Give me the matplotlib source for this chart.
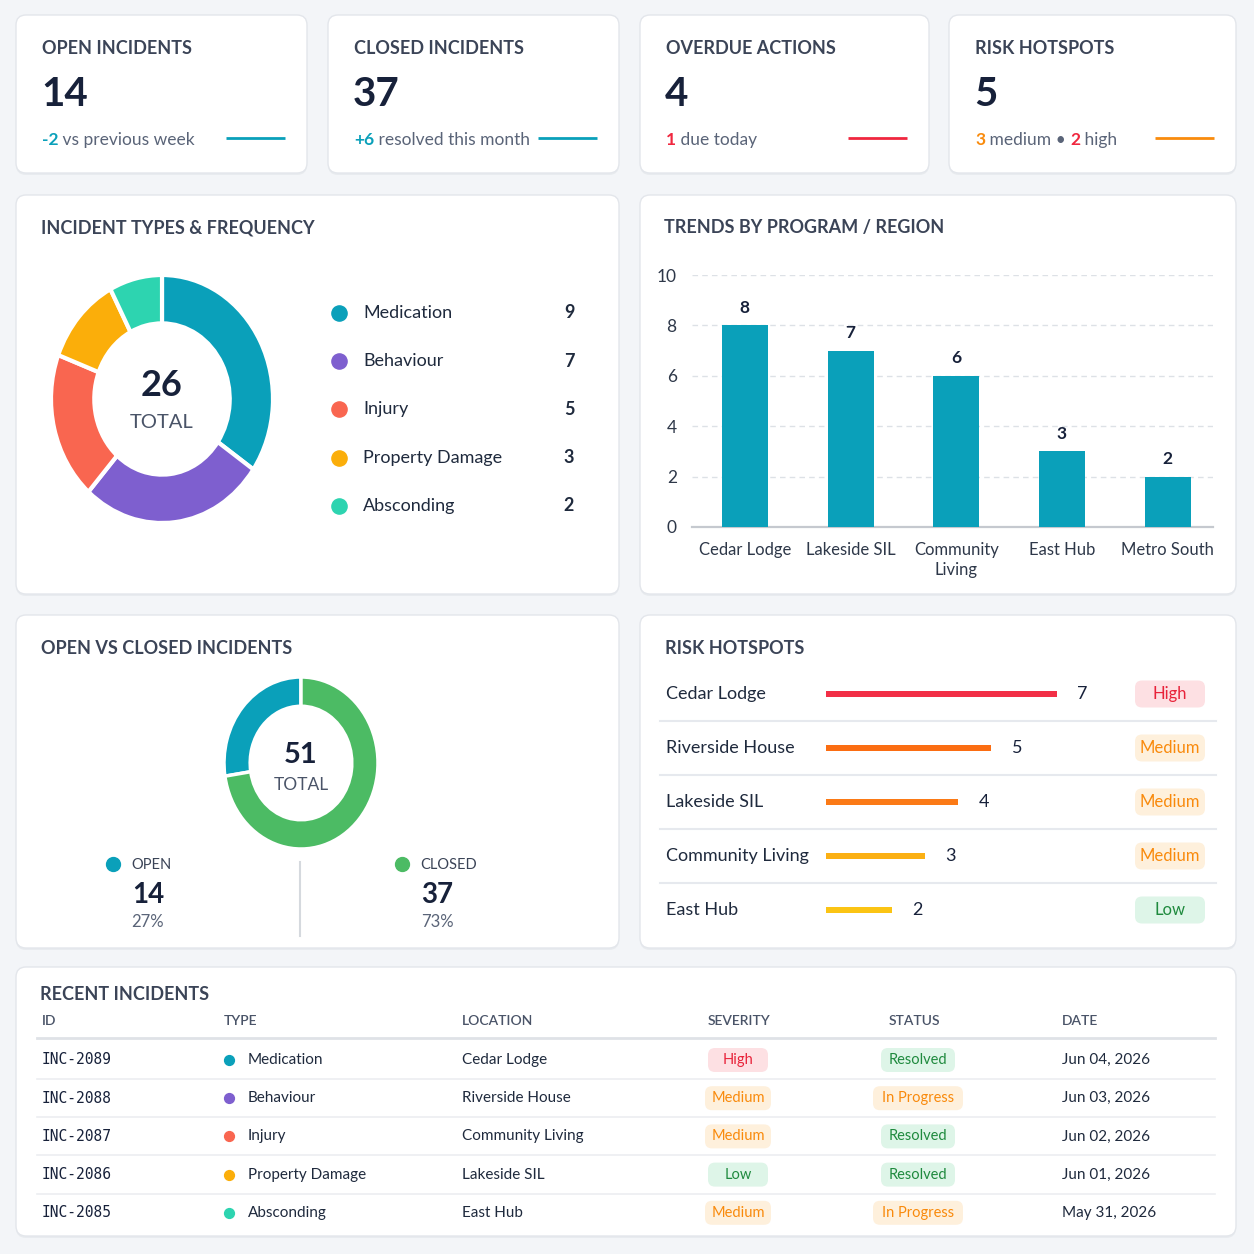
import matplotlib.pyplot as plt
from matplotlib.patches import FancyBboxPatch

plt.rcParams['font.family'] = ['Lato', 'DejaVu Sans']

# colours
BG = '#f3f5f8'
EDGE = '#e3e6eb'
TITLE = '#3b4457'
DARK = '#17213a'
TXT = '#1f2a3d'
GRAY = '#5a6478'
TEAL = '#0aa0ba'
RED = '#f0273f'
ORANGE = '#f98b0d'
GREEN = '#4cbb64'

# ---- data ----
kpi_titles = ['OPEN INCIDENTS', 'CLOSED INCIDENTS', 'OVERDUE ACTIONS', 'RISK HOTSPOTS']
kpi_values = [14, 37, 4, 5]
kpi_notes = [
    [('-2', TEAL, 'bold'), (' vs previous week', GRAY, 'normal')],
    [('+6', TEAL, 'bold'), (' resolved this month', GRAY, 'normal')],
    [('1', RED, 'bold'), (' due today', GRAY, 'normal')],
    [('3', ORANGE, 'bold'), (' medium \u2022 ', GRAY, 'normal'), ('2', RED, 'bold'), (' high', GRAY, 'normal')],
]
kpi_accents = [TEAL, TEAL, RED, ORANGE]

type_names = ['Medication', 'Behaviour', 'Injury', 'Property Damage', 'Absconding']
type_counts = [9, 7, 5, 3, 2]
type_colors = ['#0aa0ba', '#7e5fcf', '#f96650', '#fbae0a', '#2dd4b0']

programs = ['Cedar Lodge', 'Lakeside SIL', 'Community\nLiving', 'East Hub', 'Metro South']
program_counts = [8, 7, 6, 3, 2]

status_names = ['OPEN', 'CLOSED']
status_counts = [14, 37]
status_colors = [TEAL, GREEN]

hotspot_sites = ['Cedar Lodge', 'Riverside House', 'Lakeside SIL', 'Community Living', 'East Hub']
hotspot_counts = [7, 5, 4, 3, 2]
hotspot_levels = ['High', 'Medium', 'Medium', 'Medium', 'Low']
hotspot_colors = ['#f22f46', '#fb6d12', '#fb7a16', '#fbb014', '#fbc414']

inc_ids = ['INC-2089', 'INC-2088', 'INC-2087', 'INC-2086', 'INC-2085']
inc_types = ['Medication', 'Behaviour', 'Injury', 'Property Damage', 'Absconding']
inc_locations = ['Cedar Lodge', 'Riverside House', 'Community Living', 'Lakeside SIL', 'East Hub']
inc_severity = ['High', 'Medium', 'Medium', 'Low', 'Medium']
inc_status = ['Resolved', 'In Progress', 'Resolved', 'Resolved', 'In Progress']
inc_dates = ['Jun 04, 2026', 'Jun 03, 2026', 'Jun 02, 2026', 'Jun 01, 2026', 'May 31, 2026']
table_cols = ['ID', 'TYPE', 'LOCATION', 'SEVERITY', 'STATUS', 'DATE']

badge_style = {
    'High': ('#fde0e3', '#e8233a'),
    'Medium': ('#fef0dc', '#f98a0c'),
    'Low': ('#def5e8', '#1f8a3e'),
    'Resolved': ('#def5e8', '#1f8a3e'),
    'In Progress': ('#fef0dc', '#f98a0c'),
}

W = H = 1254
fig = plt.figure(figsize=(W / 100, H / 100), dpi=100, facecolor=BG)
ax = fig.add_axes([0, 0, 1, 1])
ax.set_xlim(0, W)
ax.set_ylim(H, 0)
ax.axis('off')


def px_axes(x0, y0, x1, y1):
    a = fig.add_axes([x0 / W, 1 - y1 / H, (x1 - x0) / W, (y1 - y0) / H])
    a.patch.set_alpha(0)
    return a


def card(x0, y0, x1, y1):
    ax.add_patch(FancyBboxPatch((x0, y0 + 2), x1 - x0, y1 - y0, boxstyle='round,pad=0,rounding_size=10',
                                fc='#e8ebef', ec='none', zorder=1))
    ax.add_patch(FancyBboxPatch((x0, y0), x1 - x0, y1 - y0, boxstyle='round,pad=0,rounding_size=10',
                                fc='white', ec=EDGE, lw=1, zorder=2))


def badge(cx, cy, label, w, h, size):
    fc, tc = badge_style[label]
    ax.add_patch(FancyBboxPatch((cx - w / 2, cy - h / 2), w, h, boxstyle='round,pad=0,rounding_size=7',
                                fc=fc, ec='none', zorder=3))
    ax.text(cx, cy, label, ha='center', va='center', fontsize=size, color=tc, zorder=4)


def card_title(x, y, s, size=13):
    ax.text(x, y, s, ha='left', va='center', fontsize=size, fontweight='bold', color=TITLE, zorder=4)


# ---- KPI cards ----
kpi_x = [(16, 307), (328, 619), (640, 929), (949, 1236)]
for (x0, x1), title, val, note, acc in zip(kpi_x, kpi_titles, kpi_values, kpi_notes, kpi_accents):
    card(x0, 15, x1, 173)
    card_title(x0 + 26, 49, title, 13)
    ax.text(x0 + 25, 94, str(val), ha='left', va='center', fontsize=29, fontweight='bold', color=DARK, zorder=4)
    prev = None
    for s, c, wgt in note:
        if prev is None:
            prev = ax.text(x0 + 26, 148, s, ha='left', va='bottom', fontsize=12.5, color=c,
                           fontweight=wgt, zorder=4)
        else:
            prev = ax.annotate(s, xy=(1, 0), xycoords=prev, ha='left', va='bottom', fontsize=12.5,
                               color=c, fontweight=wgt, zorder=4)
    ax.plot([x1 - 81, x1 - 22], [138, 138], color=acc, lw=2, solid_capstyle='butt', zorder=4)

# ---- incident types donut ----
card(16, 195, 619, 594)
card_title(41, 228, 'INCIDENT TYPES & FREQUENCY')
r = 1.08
dax = px_axes(162 - 111 * r, 399 - 124 * r, 162 + 111 * r, 399 + 124 * r)
dax.pie(type_counts, colors=type_colors, startangle=90, counterclock=False,
        wedgeprops=dict(width=0.39, edgecolor='white', linewidth=3))
dax.set_xlim(-r, r)
dax.set_ylim(-r, r)
dax.set_aspect('auto')
ax.text(162, 386, str(sum(type_counts)), ha='center', va='center', fontsize=26, fontweight='bold',
        color=DARK, zorder=4)
ax.text(162, 422, 'TOTAL', ha='center', va='center', fontsize=14.5, color='#4a5468', zorder=4)

for i, (name, cnt, col) in enumerate(zip(type_names, type_counts, type_colors)):
    y = 313 + i * 48.2
    ax.scatter(339, y, s=120, color=col, zorder=4)
    ax.text(363, y, name, ha='left', va='center', fontsize=13, color=TXT, zorder=4)
    ax.text(569, y, str(cnt), ha='center', va='center', fontsize=13, fontweight='bold', color=TXT, zorder=4)

# ---- trends bar chart ----
card(640, 195, 1236, 594)
card_title(664, 228, 'TRENDS BY PROGRAM / REGION')
bax = px_axes(692, 275, 1213, 527)
bars = bax.bar(range(len(programs)), program_counts, width=0.435, color=TEAL, zorder=3)
bax.bar_label(bars, padding=7, fontsize=12.5, fontweight='bold', color=DARK)
bax.set_xlim(-0.5, 4.43)
bax.set_ylim(0, 10)
bax.set_yticks(range(0, 11, 2))
bax.set_xticks(range(len(programs)))
bax.set_xticklabels(programs, fontsize=12, color='#2e3849', linespacing=1.3, va='top')
bax.tick_params(axis='y', length=0, pad=11, labelsize=12.5, labelcolor='#2e3849')
bax.tick_params(axis='x', length=0, pad=11)
bax.grid(axis='y', color='#dde1e6', ls=(0, (4, 3)), lw=1, zorder=0)
for side in ['top', 'right', 'left']:
    bax.spines[side].set_visible(False)
bax.spines['bottom'].set_color('#c5c9cf')
bax.spines['bottom'].set_linewidth(1.6)

# ---- open vs closed donut ----
card(16, 615, 619, 948)
card_title(41, 648, 'OPEN VS CLOSED INCIDENTS')
r2 = 1.08
oax = px_axes(301 - 77 * r2, 763 - 86 * r2, 301 + 77 * r2, 763 + 86 * r2)
oax.pie(status_counts, colors=status_colors, startangle=90, counterclock=True,
        wedgeprops=dict(width=0.34, edgecolor='white', linewidth=2.5))
oax.set_xlim(-r2, r2)
oax.set_ylim(-r2, r2)
oax.set_aspect('auto')
ax.text(301, 755, str(sum(status_counts)), ha='center', va='center', fontsize=21, fontweight='bold',
        color=DARK, zorder=4)
ax.text(301, 785, 'TOTAL', ha='center', va='center', fontsize=12.5, color='#4a5468', zorder=4)

total = sum(status_counts)
for cx, name, cnt, col in zip([148, 437], status_names, status_counts, status_colors):
    ax.scatter(cx - 35, 864, s=100, color=col, zorder=4)
    ax.text(cx - 17, 865, name, ha='left', va='center', fontsize=10.5, color=TITLE, zorder=4)
    ax.text(cx, 895, str(cnt), ha='center', va='center', fontsize=20, fontweight='bold', color=DARK, zorder=4)
    ax.text(cx, 922, f'{round(cnt / total * 100)}%', ha='center', va='center', fontsize=12, color=GRAY,
            zorder=4)
ax.plot([300, 300], [862, 936], color='#d5d9de', lw=1.5, zorder=4)

# ---- risk hotspots ----
card(640, 615, 1236, 948)
card_title(665, 648, 'RISK HOTSPOTS')
rax = px_axes(826, 667, 1130, 937)
rax.barh(range(len(hotspot_sites)), hotspot_counts, height=0.11, color=hotspot_colors)
for i, v in enumerate(hotspot_counts):
    rax.text(v + 0.78, i, str(v), ha='center', va='center', fontsize=13, color=DARK)
rax.set_xlim(0, 304 / 33)
rax.set_ylim(4.5, -0.5)
rax.axis('off')
for i, (site, lvl) in enumerate(zip(hotspot_sites, hotspot_levels)):
    y = 694 + i * 54
    ax.text(666, y, site, ha='left', va='center', fontsize=13, color=TXT, zorder=4)
    badge(1170, y, lvl, 70, 27, 12)
    if i < len(hotspot_sites) - 1:
        ax.plot([660, 1216], [y + 27, y + 27], color='#e6e9ee', lw=1.5, zorder=4)

# ---- recent incidents table ----
card(16, 967, 1236, 1236)
card_title(40, 994, 'RECENT INCIDENTS')
col_x = [42, 224, 462, 708, 889, 1062]
for x, c in zip(col_x, table_cols):
    ax.text(x, 1021, c, ha='left', va='center', fontsize=10, fontweight='semibold', color='#4a5468', zorder=4)
ax.plot([37, 1215], [1038, 1038], color='#dfe2e7', lw=2, zorder=4)
sev_w = {'High': 60, 'Medium': 66, 'Low': 60}
stat_w = {'Resolved': 74, 'In Progress': 90}
for i in range(len(inc_ids)):
    y = 1060 + i * 38.2
    ax.text(42, y, inc_ids[i], ha='left', va='center', fontsize=10.5, family='DejaVu Sans Mono',
            color=DARK, zorder=4)
    ax.scatter(229, y, s=50, color=type_colors[type_names.index(inc_types[i])], zorder=4)
    ax.text(248, y, inc_types[i], ha='left', va='center', fontsize=11, color=TXT, zorder=4)
    ax.text(462, y, inc_locations[i], ha='left', va='center', fontsize=11, color=TXT, zorder=4)
    badge(738, y, inc_severity[i], sev_w[inc_severity[i]], 24, 10.5)
    badge(918, y, inc_status[i], stat_w[inc_status[i]], 24, 10.5)
    ax.text(1062, y, inc_dates[i], ha='left', va='center', fontsize=11, color=TXT, zorder=4)
    if i < len(inc_ids) - 1:
        ax.plot([37, 1215], [y + 19, y + 19], color='#eceef1', lw=1.2, zorder=4)

fig.savefig('out.png', dpi=100, facecolor=BG)
